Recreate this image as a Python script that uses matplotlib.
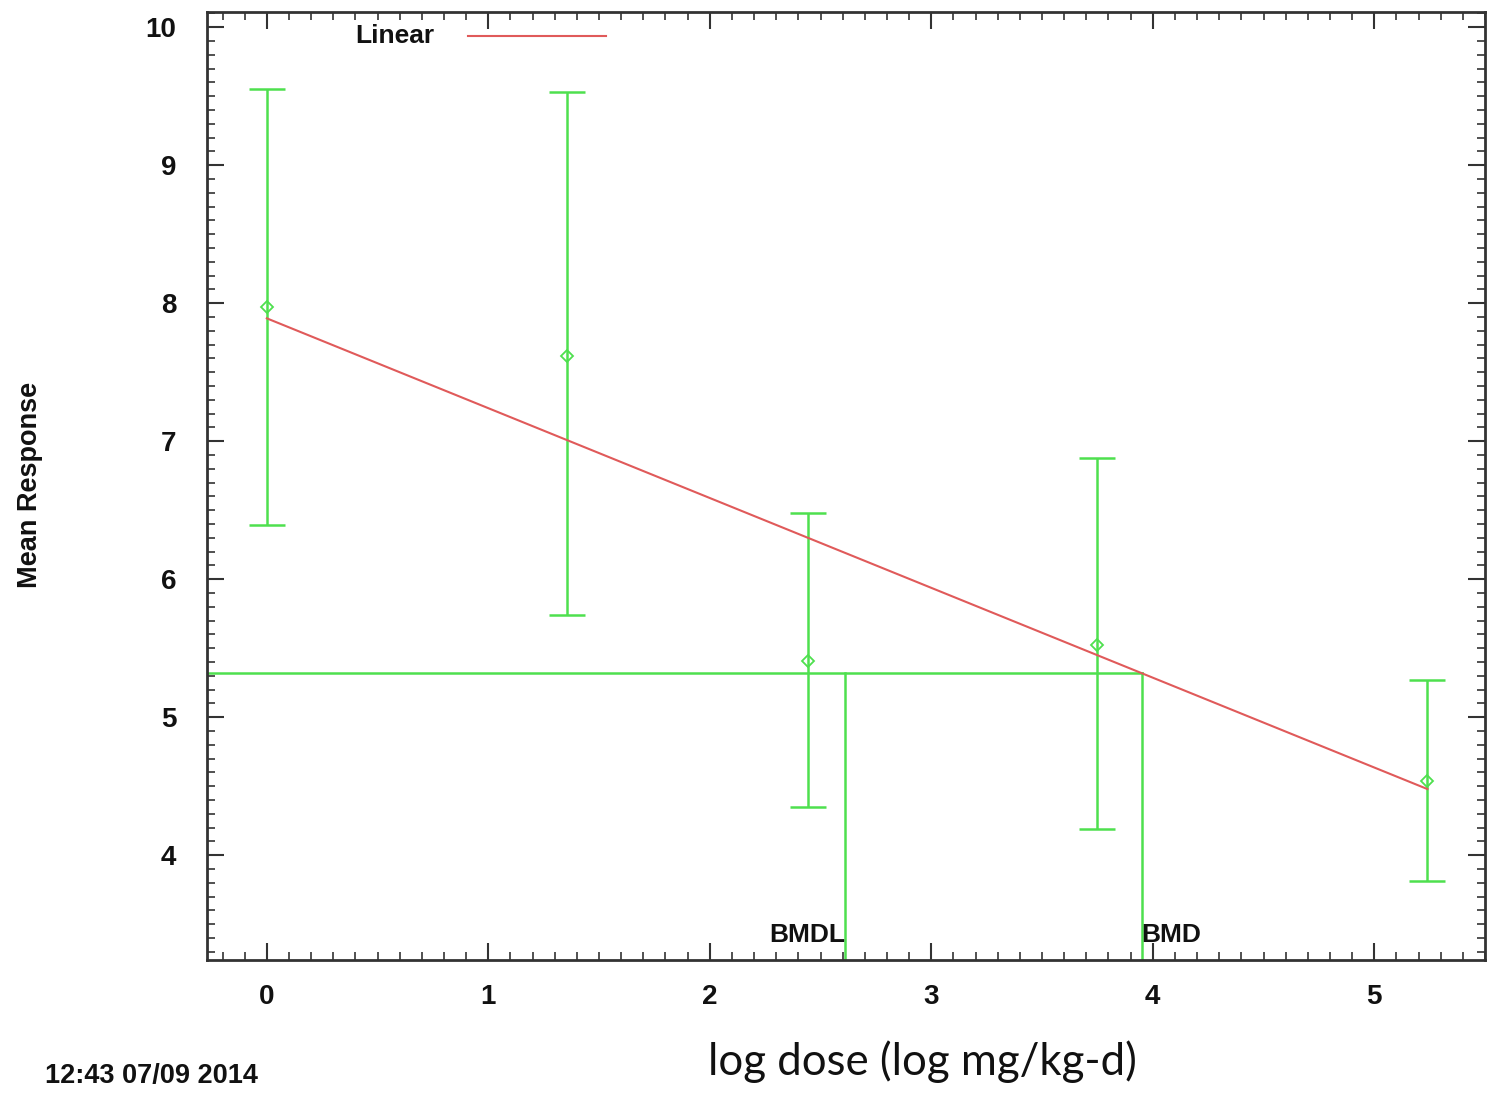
import matplotlib
matplotlib.use("Agg")
import matplotlib.pyplot as plt
from matplotlib.ticker import MultipleLocator
import numpy as np

# Data
dose = [0.0, 1.356, 2.445, 3.75, 5.24]
mean = [7.97, 7.62, 5.41, 5.52, 4.54]
upper = [9.55, 9.53, 6.48, 6.88, 5.27]
lower = [6.39, 5.74, 4.35, 4.19, 3.81]
fit_intercept = 7.89
fit_slope = -0.651
bmr_level = 5.32
bmd = 3.95
bmdl = 2.61
xticks = [0, 1, 2, 3, 4, 5]
yticks = [4, 5, 6, 7, 8, 9, 10]

GREEN = "#4ee04e"
RED = "#e05a5a"
TXT = "#111111"

fig = plt.figure(figsize=(14.9, 10.94), dpi=100)
ax = fig.add_axes([207/1490, 1-960/1094, (1485-207)/1490, (960-12)/1094])
ax.set_xlim(-0.27, 5.50)
ax.set_ylim(3.24, 10.11)

# error bars
err_lo = np.array(mean) - np.array(lower)
err_hi = np.array(upper) - np.array(mean)
ax.errorbar(dose, mean, yerr=[err_lo, err_hi], fmt="none", ecolor=GREEN,
            elinewidth=1.8, capsize=13, capthick=1.8, zorder=3)
ax.plot(dose, mean, linestyle="none", marker="D", markersize=6,
        markerfacecolor="none", markeredgecolor=GREEN, markeredgewidth=1.3, zorder=4)

# fitted line
xf = np.array([dose[0], dose[-1]])
ax.plot(xf, fit_intercept + fit_slope * xf, color=RED, lw=1.5, zorder=5)

# BMD lines
x0 = ax.get_xlim()[0]
ax.plot([x0, bmd], [bmr_level, bmr_level], color=GREEN, lw=1.8, zorder=2)
ax.plot([bmdl, bmdl], [ax.get_ylim()[0], bmr_level], color=GREEN, lw=1.8, zorder=2)
ax.plot([bmd, bmd], [ax.get_ylim()[0], bmr_level], color=GREEN, lw=1.8, zorder=2)
ax.text(bmdl, 3.42, "BMDL", ha="right", va="center", fontsize=19,
        fontweight="bold", family="Liberation Sans", color=TXT)
ax.text(bmd, 3.42, "BMD", ha="left", va="center", fontsize=19,
        fontweight="bold", family="Liberation Sans", color=TXT)

# legend
ax.text(0.178, 0.975, "Linear", transform=ax.transAxes, ha="right", va="center",
        fontsize=19, fontweight="bold", family="Liberation Sans", color=TXT)
ax.plot([0.204, 0.312], [0.975, 0.975], transform=ax.transAxes, color=RED, lw=1.5)

# ticks
ax.set_xticks(xticks)
ax.set_yticks(yticks)
ax.xaxis.set_minor_locator(MultipleLocator(0.1))
ax.yaxis.set_minor_locator(MultipleLocator(0.1))
ax.tick_params(which="both", direction="in", top=True, right=True, color="#333333")
ax.tick_params(which="major", length=12, width=1.5)
ax.tick_params(which="minor", length=6, width=1.2)
ax.tick_params(axis="x", which="major", pad=17)
ax.tick_params(axis="y", which="major", pad=22)
for lab in ax.get_xticklabels() + ax.get_yticklabels():
    lab.set_fontsize(20)
    lab.set_fontweight("bold")
    lab.set_family("Liberation Sans")
    lab.set_color(TXT)
for s in ax.spines.values():
    s.set_linewidth(2)
    s.set_color("#333333")

fig.text(30/1490, 1-485/1094, "Mean Response", rotation=90, ha="center", va="center",
         fontsize=19.5, fontweight="bold", family="Liberation Sans", color=TXT)
fig.text(922/1490, 1-1062/1094, "log dose (log mg/kg-d)", ha="center", va="center",
         fontsize=31.5, family="Lato", color="#111111")
fig.text(45/1490, 1-1076/1094, "12:43 07/09 2014", ha="left", va="center",
         fontsize=19.5, fontweight="bold", family="Liberation Sans", color=TXT)

fig.savefig("out.png", dpi=100)
